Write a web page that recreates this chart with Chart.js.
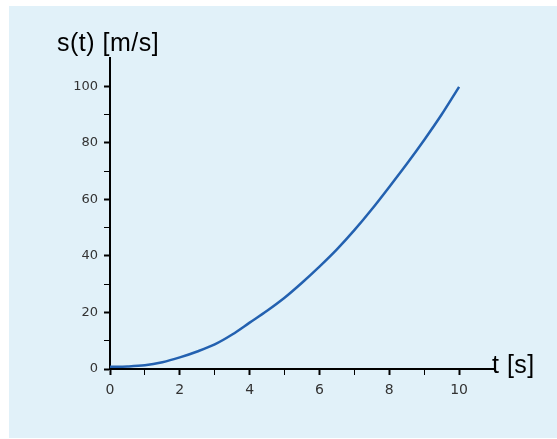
<!DOCTYPE html>
<html>
<head>
<meta charset="utf-8">
<script src="https://cdn.jsdelivr.net/npm/chart.js@4"></script>
<style>
  html, body { margin: 0; padding: 0; background: #ffffff; }
  #wrap { position: relative; width: 557px; height: 439px; overflow: hidden; }
  #panel { position: absolute; left: 9px; top: 6px; width: 548px; height: 432px; background: #e1f1f9; }
  #c { position: absolute; left: 0; top: 0; }
</style>
</head>
<body>
<div id="wrap">
  <div id="panel"></div>
  <canvas id="c" width="557" height="439"></canvas>
</div>
<script>
// Data
const timeValues = [0, 0.5, 1, 1.5, 2, 2.5, 3, 3.5, 4, 4.5, 5, 5.5, 6, 6.5, 7, 7.5, 8, 8.5, 9, 9.5, 10];
const distanceValues = [0.8, 0.9, 1.3, 2.4, 4.1, 6.2, 8.7, 12.2, 16.4, 20.6, 25.2, 30.5, 36.2, 42.3, 49.1, 56.5, 64.4, 72.5, 81.0, 90.0, 99.8];
const xTickLabels = [0, 2, 4, 6, 8, 10];
const yTickLabels = [0, 20, 40, 60, 80, 100];
const yAxisTitle = 's(t) [m/s]';
const xAxisTitle = 't [s]';

const points = timeValues.map((t, i) => ({ x: t, y: distanceValues[i] }));

const axisTitles = {
  id: 'axisTitles',
  afterDraw(chart) {
    const ctx = chart.ctx;
    const a = chart.chartArea;
    ctx.save();
    ctx.fillStyle = '#000';
    ctx.font = '25px "Liberation Sans", Arial, sans-serif';
    try { ctx.letterSpacing = '0.5px'; } catch (e) {}
    ctx.textBaseline = 'alphabetic';
    ctx.textAlign = 'left';
    ctx.fillText(yAxisTitle, a.left - 53, a.top - 7);
    ctx.fillText(xAxisTitle, a.right - 2, a.bottom + 4);
    ctx.restore();
  }
};

new Chart(document.getElementById('c'), {
  type: 'line',
  data: {
    datasets: [{
      data: points,
      borderColor: '#2361b0',
      borderWidth: 2.5,
      pointRadius: 0,
      tension: 0.4,
      cubicInterpolationMode: 'monotone',
      fill: false
    }]
  },
  options: {
    responsive: false,
    animation: false,
    devicePixelRatio: 1,
    layout: { padding: { top: 58, right: 63, left: 0, bottom: 0 } },
    plugins: { legend: { display: false }, tooltip: { enabled: false }, title: { display: false } },
    scales: {
      x: {
        type: 'linear',
        min: 0, max: 11,
        afterFit(s) { s.height = 70; },
        afterBuildTicks(s) { s.ticks = s.ticks.filter(t => t.value <= 10); },
        border: { display: true, color: '#000', width: 2 },
        grid: {
          display: true, drawOnChartArea: false, drawTicks: true, tickLength: 6,
          tickColor: '#000',
          tickWidth: ctx => (ctx.tick && ctx.tick.value % 2 === 0) ? 2 : 1
        },
        ticks: {
          stepSize: 1, autoSkip: false, maxRotation: 0, padding: 7,
          color: '#333',
          font: { family: '"DejaVu Sans", sans-serif', size: 14 },
          callback: v => xTickLabels.includes(v) ? String(v) : ''
        }
      },
      y: {
        type: 'linear',
        min: 0, max: 110,
        afterFit(s) { s.width = 110; },
        afterBuildTicks(s) { s.ticks = s.ticks.filter(t => t.value <= 100); },
        border: { display: true, color: '#000', width: 2 },
        grid: {
          display: true, drawOnChartArea: false, drawTicks: true, tickLength: 6,
          tickColor: '#000',
          tickWidth: ctx => (ctx.tick && ctx.tick.value % 20 === 0) ? 2 : 1
        },
        ticks: {
          stepSize: 10, autoSkip: false, padding: 6,
          color: '#333',
          font: { family: '"DejaVu Sans", sans-serif', size: 13 },
          callback: v => yTickLabels.includes(v) ? String(v) : ''
        }
      }
    }
  },
  plugins: [axisTitles]
});
</script>
</body>
</html>
